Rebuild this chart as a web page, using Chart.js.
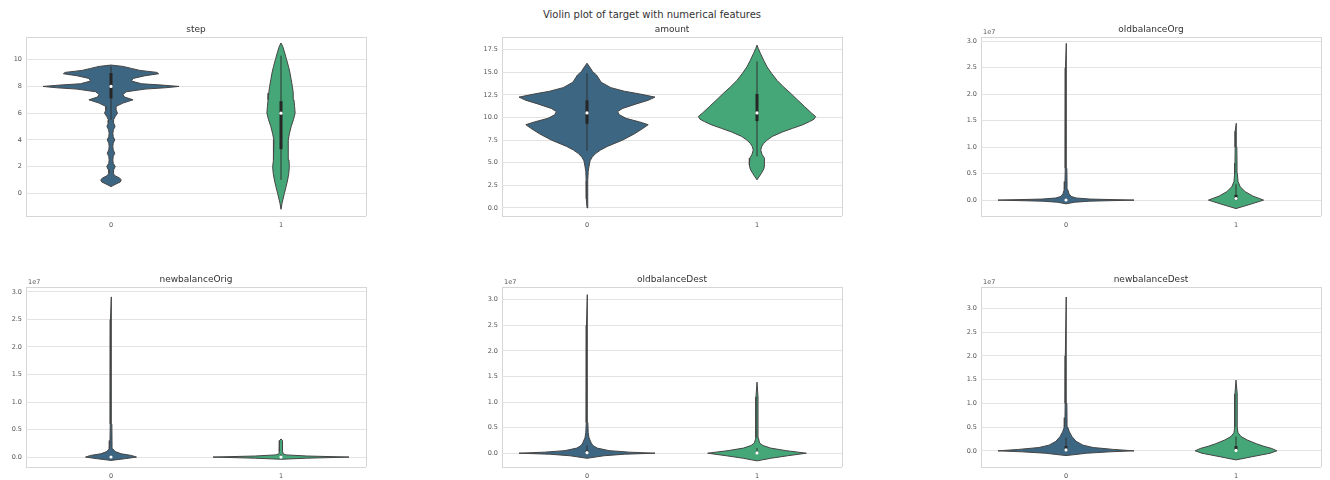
<!DOCTYPE html>
<html>
<head>
<meta charset="utf-8">
<script src="https://cdn.jsdelivr.net/npm/chart.js@4.4.1/dist/chart.umd.min.js"></script>
<style>
  body { margin: 0; width: 1330px; height: 480px; overflow: hidden; background: #fff; position: relative; font-family: "DejaVu Sans", sans-serif; }
  canvas { position: absolute; }
  #suptitle { position: absolute; left: 0; top: 9px; width: 1304px; text-align: center; font-size: 10px; color: #333; }
</style>
</head>
<body>
<div id="suptitle">Violin plot of target with numerical features</div>
<canvas id="stepChart" width="369" height="210" style="left:2px;top:22px"></canvas>
<canvas id="amountChart" width="369" height="210" style="left:478px;top:22px"></canvas>
<canvas id="orgOldChart" width="369" height="210" style="left:957px;top:22px"></canvas>
<canvas id="orgNewChart" width="369" height="211" style="left:2px;top:272px"></canvas>
<canvas id="destOldChart" width="369" height="211" style="left:478px;top:272px"></canvas>
<canvas id="destNewChart" width="369" height="211" style="left:957px;top:272px"></canvas>
<script>
// target classes on the x axis
var targetClasses = ["0", "1"];
var classColors = ["#3d6682", "#45a778"];

// step
var stepTicks = [0, 2, 4, 6, 8, 10];
var stepLimits = [-1.7, 11.7];
var stepLevels0 = [0.5, 0.7, 0.85, 1.0, 1.15, 1.3, 1.5, 1.75, 2.0, 2.25, 2.5, 2.75, 3.0, 3.25, 3.5, 3.75, 4.0, 4.25, 4.5, 4.75, 5.0, 5.25, 5.5, 5.75, 6.0, 6.25, 6.5, 6.75, 7.0, 7.2, 7.4, 7.6, 7.8, 7.9, 8.0, 8.1, 8.2, 8.4, 8.6, 8.8, 8.95, 9.05, 9.2, 9.35, 9.5, 9.6];
var stepWidths0 = [0, 0.03, 0.055, 0.06, 0.05, 0.025, 0.012, 0.015, 0.025, 0.013, 0.011, 0.013, 0.022, 0.013, 0.011, 0.013, 0.022, 0.013, 0.011, 0.014, 0.024, 0.016, 0.015, 0.025, 0.038, 0.03, 0.03, 0.07, 0.13, 0.08, 0.07, 0.09, 0.2, 0.32, 0.4, 0.3, 0.18, 0.12, 0.13, 0.2, 0.28, 0.27, 0.17, 0.12, 0.07, 0];
var stepLevels1 = [-1.2, -0.75, 0, 0.5, 1, 1.5, 2, 2.5, 3, 3.5, 4, 4.5, 5, 5.5, 6, 6.5, 7, 7.5, 8, 8.5, 9, 9.5, 10, 10.5, 11, 11.25];
var stepWidths1 = [0, 0.006, 0.02, 0.03, 0.039, 0.046, 0.049, 0.047, 0.044, 0.042, 0.042, 0.05, 0.06, 0.073, 0.083, 0.08, 0.076, 0.072, 0.067, 0.06, 0.053, 0.044, 0.033, 0.022, 0.01, 0];
// [low whisker, q1, median, q3, high whisker]
var stepBox0 = [5.5, 7.1, 8.0, 9.0, 9.5];
var stepBox1 = [1.0, 3.3, 6.0, 6.9, 10.3];

// amount
var amountTicks = [0, 2.5, 5, 7.5, 10, 12.5, 15, 17.5];
var amountLimits = [-0.9, 18.9];
var amountLevels0 = [0, 1, 2, 3, 4, 4.6, 5.2, 5.6, 6.0, 6.4, 6.8, 7.5, 8.2, 8.8, 9.2, 9.5, 9.9, 10.3, 10.65, 11.0, 11.5, 11.9, 12.25, 12.6, 12.9, 13.3, 13.9, 14.7, 15.05, 15.6, 16.0];
var amountWidths0 = [0, 0.004, 0.004, 0.005, 0.007, 0.012, 0.018, 0.03, 0.05, 0.08, 0.12, 0.21, 0.28, 0.33, 0.36, 0.31, 0.23, 0.19, 0.18, 0.21, 0.29, 0.36, 0.4, 0.31, 0.22, 0.14, 0.083, 0.056, 0.034, 0.015, 0];
var amountLevels1 = [3.1, 3.8, 4.3, 4.75, 5.2, 5.5, 5.9, 6.4, 6.8, 7.15, 7.5, 7.9, 8.4, 8.8, 9.2, 9.55, 9.8, 10.1, 10.5, 11.2, 12.0, 12.7, 13.4, 14.1, 14.9, 15.6, 16.3, 17.1, 17.6, 18.0];
var amountWidths1 = [0, 0.025, 0.04, 0.045, 0.045, 0.042, 0.03, 0.022, 0.028, 0.04, 0.06, 0.09, 0.15, 0.21, 0.27, 0.31, 0.335, 0.345, 0.32, 0.28, 0.235, 0.196, 0.155, 0.118, 0.085, 0.059, 0.04, 0.02, 0.008, 0];
var amountBox0 = [6.3, 9.3, 10.5, 11.9, 14.9];
var amountBox1 = [5.7, 9.6, 10.5, 12.6, 16.2];

// oldbalanceOrg (x 1e7)
var orgOldTicks = [0, 0.5, 1, 1.5, 2, 2.5, 3];
var orgOldLimits = [-0.3, 3.08];
var orgOldLevels0 = [-0.07, -0.04, -0.02, 0, 0.02, 0.04, 0.07, 0.12, 0.2, 0.35, 0.6, 1.5, 2.5, 2.96];
var orgOldWidths0 = [0, 0.05, 0.14, 0.4, 0.14, 0.06, 0.03, 0.018, 0.01, 0.006, 0.005, 0.004, 0.003, 0];
var orgOldLevels1 = [-0.16, -0.075, 0, 0.075, 0.16, 0.25, 0.35, 0.5, 0.7, 1.0, 1.3, 1.45];
var orgOldWidths1 = [0, 0.088, 0.162, 0.1, 0.054, 0.025, 0.012, 0.008, 0.006, 0.005, 0.005, 0];
var orgOldBox0 = [0, 0, 0.002, 0.01, 0.03];
var orgOldBox1 = [0, 0.003, 0.03, 0.1, 0.3];

// newbalanceOrig (x 1e7)
var orgNewTicks = [0, 0.5, 1, 1.5, 2, 2.5, 3];
var orgNewLimits = [-0.18, 3.09];
var orgNewLevels0 = [-0.06, -0.03, 0, 0.03, 0.06, 0.1, 0.15, 0.3, 0.6, 1.5, 2.5, 2.91];
var orgNewWidths0 = [0, 0.08, 0.15, 0.12, 0.06, 0.025, 0.01, 0.006, 0.005, 0.004, 0.003, 0];
var orgNewLevels1 = [-0.04, -0.02, 0, 0.02, 0.04, 0.06, 0.1, 0.2, 0.3, 0.33];
var orgNewWidths1 = [0, 0.15, 0.4, 0.15, 0.03, 0.012, 0.01, 0.01, 0.008, 0];
var orgNewBox0 = [0, 0, 0.002, 0.01, 0.03];
var orgNewBox1 = [0, 0, 0, 0, 0.05];

// oldbalanceDest (x 1e7)
var destOldTicks = [0, 0.5, 1, 1.5, 2, 2.5, 3];
var destOldLimits = [-0.27, 3.25];
var destOldLevels0 = [-0.1, -0.05, -0.02, 0, 0.02, 0.05, 0.1, 0.15, 0.2, 0.3, 0.4, 0.6, 1.5, 2.5, 3.1];
var destOldWidths0 = [0, 0.1, 0.22, 0.4, 0.25, 0.13, 0.06, 0.035, 0.025, 0.012, 0.007, 0.005, 0.004, 0.003, 0];
var destOldLevels1 = [-0.15, -0.1, -0.05, 0, 0.05, 0.1, 0.15, 0.2, 0.3, 0.5, 0.8, 1.1, 1.39];
var destOldWidths1 = [0, 0.08, 0.18, 0.29, 0.17, 0.08, 0.035, 0.015, 0.008, 0.006, 0.006, 0.006, 0];
var destOldBox0 = [0, 0, 0.01, 0.05, 0.15];
var destOldBox1 = [0, 0, 0.005, 0.03, 0.1];

// newbalanceDest (x 1e7)
var destNewTicks = [0, 0.5, 1, 1.5, 2, 2.5, 3];
var destNewLimits = [-0.34, 3.45];
var destNewLevels0 = [-0.1, -0.05, -0.02, 0, 0.03, 0.07, 0.12, 0.2, 0.3, 0.4, 0.5, 0.7, 1.0, 2.0, 3.24];
var destNewWidths0 = [0, 0.12, 0.26, 0.4, 0.28, 0.16, 0.1, 0.06, 0.035, 0.02, 0.01, 0.006, 0.005, 0.004, 0];
var destNewLevels1 = [-0.19, -0.12, -0.05, 0, 0.05, 0.1, 0.15, 0.23, 0.3, 0.38, 0.5, 0.8, 0.95, 1.05, 1.2, 1.49];
var destNewWidths1 = [0, 0.1, 0.2, 0.24, 0.21, 0.16, 0.12, 0.065, 0.03, 0.012, 0.007, 0.006, 0.009, 0.008, 0.006, 0];
var destNewBox0 = [0, 0, 0.02, 0.1, 0.28];
var destNewBox1 = [0, 0, 0.01, 0.1, 0.3];

var gridColor = "#e3e3e3";
var frameColor = "#d6d6d6";
var edgeColor = "#444";

Chart.defaults.font.family = '"DejaVu Sans", sans-serif';
Chart.defaults.animation = false;

// "1e7" offset text over the top left corner of the y axis
var offsetLabel = {
  id: "offsetLabel",
  afterDraw: function (chart, args, opts) {
    if (!opts.text) return;
    var ctx = chart.ctx;
    ctx.save();
    ctx.font = '6.5px "DejaVu Sans"';
    ctx.fillStyle = "#555";
    ctx.textBaseline = "bottom";
    ctx.fillText(opts.text, chart.chartArea.left + 2, chart.chartArea.top - 1);
    ctx.restore();
  },
};

// closed outline: up the right side, back down the left side
function violinOutline(center, levels, widths) {
  var right = levels.map(function (y, i) { return { x: center + widths[i], y: y }; });
  var left = levels.map(function (y, i) { return { x: center - widths[i], y: y }; }).reverse();
  return right.concat(left);
}

function violinDatasets(center, levels, widths, box) {
  return [
    {
      data: [{ x: center, y: box[2] }],
      pointRadius: 1.6,
      pointBackgroundColor: "#fff",
      pointBorderWidth: 0,
      order: 0,
    },
    {
      data: [{ x: center, y: box[1] }, { x: center, y: box[3] }],
      showLine: true,
      borderColor: "#262626",
      borderWidth: 3,
      borderCapStyle: "butt",
      pointRadius: 0,
      order: 1,
    },
    {
      data: [{ x: center, y: box[0] }, { x: center, y: box[4] }],
      showLine: true,
      borderColor: "#333",
      borderWidth: 1,
      pointRadius: 0,
      order: 2,
    },
    {
      data: violinOutline(center, levels, widths),
      showLine: true,
      fill: "shape",
      backgroundColor: classColors[center],
      borderColor: edgeColor,
      borderWidth: 1,
      pointRadius: 0,
      order: 3,
    },
  ];
}

function drawPanel(id, title, ticks, limits, decimals, offsetText, levels0, widths0, box0, levels1, widths1, box1) {
  var ctx = document.getElementById(id).getContext("2d");
  var datasets = violinDatasets(0, levels0, widths0, box0).concat(violinDatasets(1, levels1, widths1, box1));
  return new Chart(ctx, {
    type: "scatter",
    data: { datasets: datasets },
    options: {
      responsive: false,
      layout: { padding: { right: 3 } },
      plugins: {
        legend: { display: false },
        tooltip: { enabled: false },
        title: {
          display: true,
          text: title,
          fullSize: false,
          color: "#333",
          font: { size: 9, weight: "normal", lineHeight: 1 },
          padding: { top: 3, bottom: 3 },
        },
        offsetLabel: { text: offsetText },
      },
      scales: {
        x: {
          type: "linear",
          min: -0.5,
          max: 1.5,
          afterBuildTicks: function (axis) {
            axis.ticks = [-0.5, 0, 1, 1.5].map(function (v) { return { value: v }; });
          },
          afterFit: function (axis) { axis.height = 16; },
          border: { display: false },
          grid: {
            drawTicks: false,
            color: function (c) {
              return c.tick && (c.tick.value === -0.5 || c.tick.value === 1.5) ? frameColor : "rgba(0,0,0,0)";
            },
          },
          ticks: {
            padding: 5,
            color: "#555",
            font: { size: 6.5 },
            autoSkip: false,
            maxRotation: 0,
            callback: function (v) { return v === 0 || v === 1 ? targetClasses[v] : ""; },
          },
        },
        y: {
          type: "linear",
          min: limits[0],
          max: limits[1],
          afterBuildTicks: function (axis) {
            axis.ticks = [limits[0]].concat(ticks, [limits[1]]).map(function (v) { return { value: v }; });
          },
          afterFit: function (axis) { axis.width = 24; },
          border: { display: false },
          grid: {
            drawTicks: false,
            color: function (c) {
              if (!c.tick) return gridColor;
              return c.tick.value === limits[0] || c.tick.value === limits[1] ? frameColor : gridColor;
            },
          },
          ticks: {
            padding: 4,
            color: "#555",
            font: { size: 6.5 },
            autoSkip: false,
            callback: function (v) { return ticks.indexOf(v) >= 0 ? v.toFixed(decimals) : ""; },
          },
        },
      },
    },
    plugins: [offsetLabel],
  });
}

drawPanel("stepChart", "step", stepTicks, stepLimits, 0, "",
  stepLevels0, stepWidths0, stepBox0, stepLevels1, stepWidths1, stepBox1);
drawPanel("amountChart", "amount", amountTicks, amountLimits, 1, "",
  amountLevels0, amountWidths0, amountBox0, amountLevels1, amountWidths1, amountBox1);
drawPanel("orgOldChart", "oldbalanceOrg", orgOldTicks, orgOldLimits, 1, "1e7",
  orgOldLevels0, orgOldWidths0, orgOldBox0, orgOldLevels1, orgOldWidths1, orgOldBox1);
drawPanel("orgNewChart", "newbalanceOrig", orgNewTicks, orgNewLimits, 1, "1e7",
  orgNewLevels0, orgNewWidths0, orgNewBox0, orgNewLevels1, orgNewWidths1, orgNewBox1);
drawPanel("destOldChart", "oldbalanceDest", destOldTicks, destOldLimits, 1, "1e7",
  destOldLevels0, destOldWidths0, destOldBox0, destOldLevels1, destOldWidths1, destOldBox1);
drawPanel("destNewChart", "newbalanceDest", destNewTicks, destNewLimits, 1, "1e7",
  destNewLevels0, destNewWidths0, destNewBox0, destNewLevels1, destNewWidths1, destNewBox1);
</script>
</body>
</html>
